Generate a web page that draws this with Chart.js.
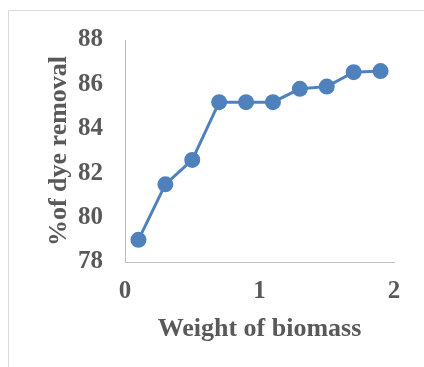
<!DOCTYPE html>
<html><head><meta charset="utf-8">
<script src="https://cdn.jsdelivr.net/npm/chart.js@4/dist/chart.umd.min.js"></script>
<style>html,body{margin:0;padding:0;background:#fff;}#wrap{width:424px;height:367px;position:relative;}</style>
</head><body><div id="wrap"><canvas id="c" width="424" height="367"></canvas></div>
<script>
const weights = [0.1, 0.3, 0.5, 0.7, 0.9, 1.1, 1.3, 1.5, 1.7, 1.9];
const removal = [79.0, 81.5, 82.6, 85.2, 85.2, 85.2, 85.8, 85.9, 86.55, 86.6];
const xTitle = 'Weight of biomass';
const yTitle = '%of dye removal';

const frame = {
  id: 'frame',
  beforeDraw(chart) {
    const ctx = chart.ctx;
    ctx.save();
    ctx.strokeStyle = '#d9d9d9';
    ctx.lineWidth = 1;
    ctx.beginPath();
    ctx.moveTo(8.5, 367); ctx.lineTo(8.5, 10.5); ctx.lineTo(424, 10.5);
    ctx.stroke();
    ctx.restore();
  }
};

const tickFont = {family: '"Liberation Serif", "Times New Roman", serif', size: 25, weight: 'bold'};
const titleFont = {family: '"Liberation Serif", "Times New Roman", serif', size: 26, weight: 'bold'};
new Chart(document.getElementById('c'), {
  type: 'scatter',
  data: {
    datasets: [{
      data: weights.map((w, i) => ({x: w, y: removal[i]})),
      showLine: true,
      borderColor: '#4F81BD',
      backgroundColor: '#4F81BD',
      borderWidth: 3,
      pointRadius: 6.5,
      pointHoverRadius: 6.5
    }]
  },
  options: {
    responsive: false,
    animation: false,
    devicePixelRatio: 1,
    layout: {padding: {top: 40, right: 30, bottom: 0, left: 0}},
    plugins: {legend: {display: false}, tooltip: {enabled: false}},
    scales: {
      x: {
        type: 'linear', min: 0, max: 2,
        ticks: {stepSize: 1, color: '#595959', font: tickFont, padding: 7},
        grid: {display: false},
        border: {display: true, color: '#bfbfbf', width: 1},
        title: {display: true, text: xTitle, color: '#595959', font: titleFont, padding: {top: 0, bottom: 22}},
        afterFit(s) { s.height = 105; }
      },
      y: {
        min: 78, max: 88,
        ticks: {stepSize: 2, color: '#595959', font: tickFont, padding: 14},
        grid: {display: false},
        border: {display: true, color: '#bfbfbf', width: 1},
        title: {display: true, text: yTitle, color: '#595959', font: titleFont, padding: {top: 44, bottom: 0}},
        afterFit(s) { s.width = 125; }
      }
    }
  },
  plugins: [frame]
});
</script></body></html>
